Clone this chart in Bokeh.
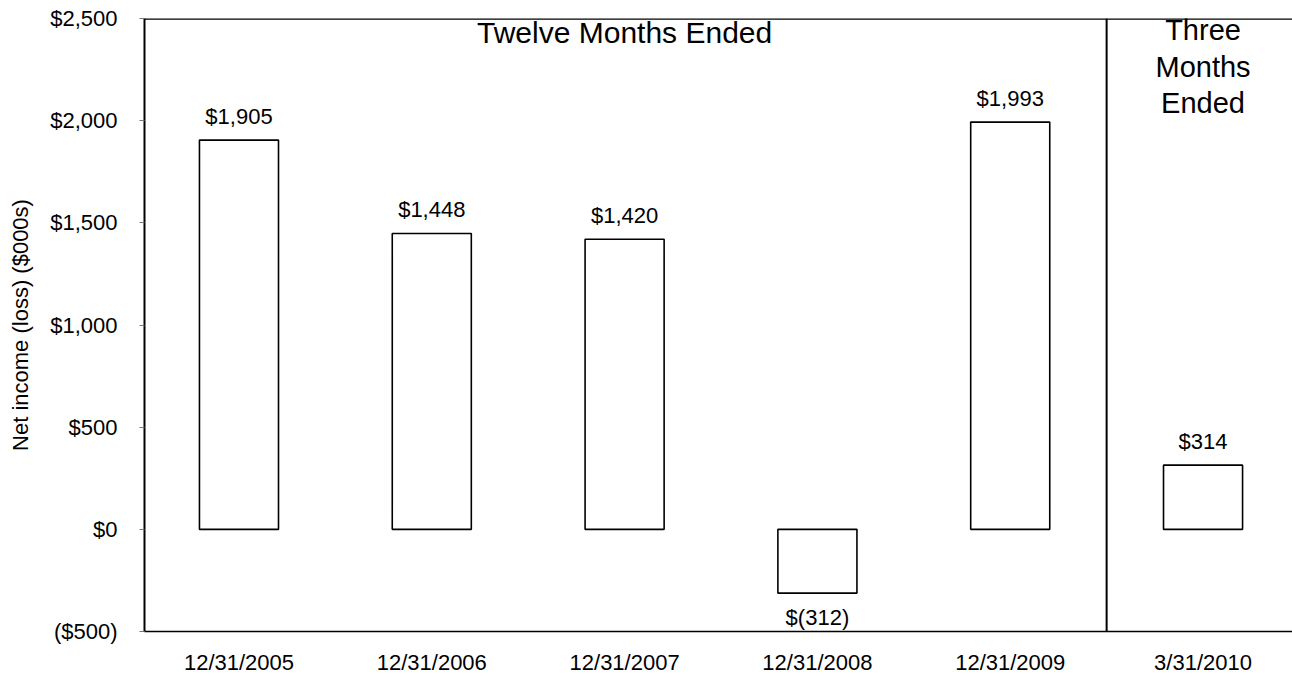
from bokeh.plotting import figure
from bokeh.models import ColumnDataSource, FixedTicker, Span, Range1d
from bokeh.core.properties import value
from bokeh.embed import file_html
from bokeh.resources import INLINE

# Net income by period ($000s)
periods = ["12/31/2005", "12/31/2006", "12/31/2007", "12/31/2008", "12/31/2009", "3/31/2010"]
net_income = [1905, 1448, 1420, -312, 1993, 314]
value_labels = ["$1,905", "$1,448", "$1,420", "$(312)", "$1,993", "$314"]

y_ticks = [-500, 0, 500, 1000, 1500, 2000, 2500]
y_tick_labels = ["($500)", "$0", "$500", "$1,000", "$1,500", "$2,000", "$2,500"]

annual_header = "Twelve Months Ended"
quarter_header = ["Three", "Months", "Ended"]

FONT = "Liberation Sans"

xs = list(range(len(periods)))

p = figure(
    width=1292, height=677,
    x_range=Range1d(-0.49, 5.464), y_range=Range1d(-500, 2500),
    output_backend="svg", toolbar_location=None,
    min_border_left=144, min_border_right=0, min_border_top=18, min_border_bottom=46,
)
p.outline_line_color = None
p.xgrid.visible = False
p.ygrid.visible = False
p.background_fill_color = "white"
p.border_fill_color = "white"

# bars
src = ColumnDataSource(dict(x=xs, top=net_income, bottom=[0] * len(xs)))
p.vbar(x="x", top="top", bottom="bottom", width=0.41, source=src,
       fill_color="white", line_color="black", line_width=1.6)

# value labels: above positive bars, below negative bars
pos = [i for i, v in enumerate(net_income) if v >= 0]
neg = [i for i, v in enumerate(net_income) if v < 0]
p.text(x=[xs[i] for i in pos], y=[net_income[i] for i in pos],
       text=[value_labels[i] for i in pos], y_offset=-24,
       text_align="center", text_baseline="middle",
       text_font=value(FONT), text_font_size="22px", text_color="black")
p.text(x=[xs[i] for i in neg], y=[net_income[i] for i in neg],
       text=[value_labels[i] for i in neg], y_offset=24,
       text_align="center", text_baseline="middle",
       text_font=value(FONT), text_font_size="22px", text_color="black")

# section headers
p.text(x=[2], y=[2500], text=[annual_header], y_offset=14,
       text_align="center", text_baseline="middle",
       text_font=value(FONT), text_font_size="30px", text_color="black")
p.text(x=[5] * 3, y=[2500] * 3, text=quarter_header, y_offset=[11, 48, 84],
       text_align="center", text_baseline="middle",
       text_font=value(FONT), text_font_size="29px", text_color="black")

# frame: top edge and divider between annual and quarterly periods
p.add_layout(Span(location=2500, dimension="width", line_color="black", line_width=2.5))
p.add_layout(Span(location=4.5, dimension="height", line_color="black", line_width=2))

# x axis
p.xaxis.ticker = FixedTicker(ticks=xs)
p.xaxis.major_label_overrides = {x: lab for x, lab in zip(xs, periods)}
p.xaxis.major_tick_line_color = None
p.xaxis.minor_tick_line_color = None
p.xaxis.axis_line_color = "black"
p.xaxis.axis_line_width = 1.6
p.xaxis.major_label_standoff = 12
p.xaxis.major_label_text_font = FONT
p.xaxis.major_label_text_font_size = "22px"
p.xaxis.major_label_text_color = "black"

# y axis
p.yaxis.ticker = FixedTicker(ticks=y_ticks)
p.yaxis.major_label_overrides = {t: lab for t, lab in zip(y_ticks, y_tick_labels)}
p.yaxis.major_tick_in = 0
p.yaxis.major_tick_out = 5
p.yaxis.major_tick_line_color = "#777777"
p.yaxis.minor_tick_line_color = None
p.yaxis.axis_line_color = "black"
p.yaxis.axis_line_width = 2
p.yaxis.major_label_standoff = 22
p.yaxis.major_label_text_font = FONT
p.yaxis.major_label_text_font_size = "22px"
p.yaxis.major_label_text_color = "black"
p.yaxis.axis_label = "Net income (loss) ($000s)"
p.yaxis.axis_label_text_font = FONT
p.yaxis.axis_label_text_font_size = "22px"
p.yaxis.axis_label_text_font_style = "normal"
p.yaxis.axis_label_text_color = "black"
p.yaxis.axis_label_standoff = 14

open("out.html", "w").write(file_html(p, INLINE))
